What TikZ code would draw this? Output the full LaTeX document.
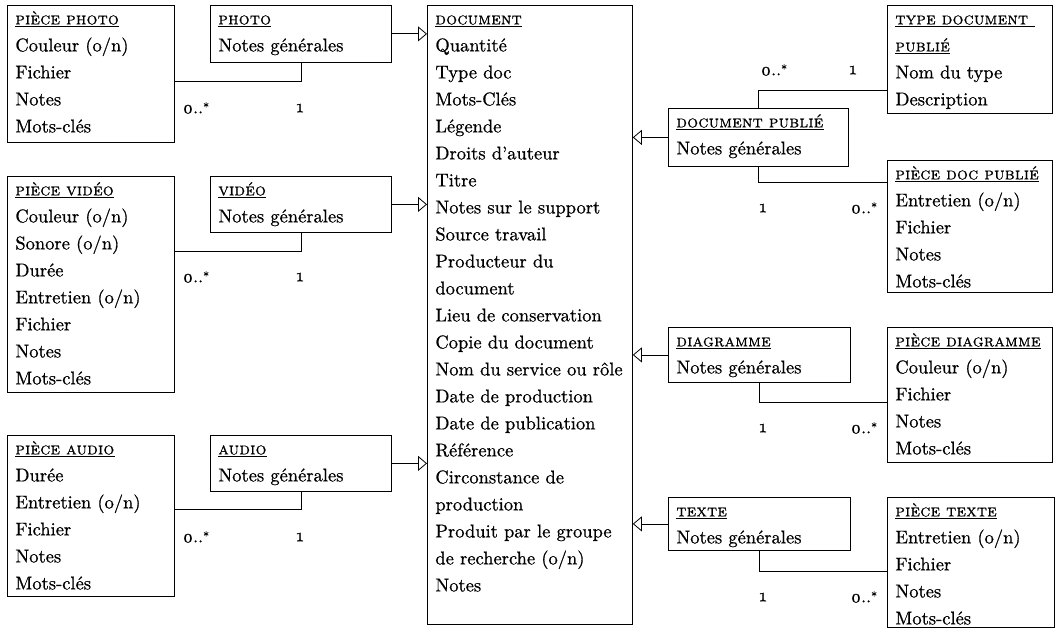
\documentclass[tikz,border=0pt]{standalone}
\usepackage{fontspec}
\setmainfont{lmroman10-regular.otf}[FakeBold=0.7, SmallCapsFont=lmromancaps10-regular.otf, SmallCapsFeatures={FakeBold=0.8, LetterSpace=1.5}]
\usepackage{tikz}
\usetikzlibrary{arrows.meta}
\newcommand{\entfont}{\fontsize{18.5}{27}\selectfont}
\newcommand{\cardfont}{\fontsize{18}{20}\selectfont}
\newcommand{\ent}[1]{{\fontsize{17}{27}\selectfont\underline{\textsc{#1}}}}
\newcommand{\many}{\oldstylenums{0}..\raisebox{2pt}{\fontsize{12}{12}\selectfont*}}
\newcommand{\one}{\oldstylenums{1}}
\tikzset{
	entity/.style={draw, anchor=north west, align=left, inner xsep=8pt, inner ysep=0pt, text height=19pt, font=\entfont},
	card/.style={font=\cardfont, inner sep=0pt},
}
\begin{document}
\begin{tikzpicture}[x=1pt,y=-1pt,line width=0.8pt,>={Triangle[open,length=9pt,width=15pt]}]
	\useasboundingbox (0,0) rectangle (1059,628);
	\node[entity, text width=189pt, text depth=600pt] (document) at (427,5) {\ent{document}\\ Quantité\\ Type doc\\ Mots-Clés\\ Légende\\ Droits d'auteur\\ Titre\\ Notes sur le support\\ Source travail\\ Producteur du\\ document\\ Lieu de conservation\\ Copie du document\\ Nom du service ou rôle\\ Date de production\\ Date de publication\\ Référence\\ Circonstance de\\ production\\ Produit par le groupe\\ de recherche (o/n)\\ Notes};
	\node[entity, text width=151pt, text depth=118pt] (piecephoto) at (7,5) {\ent{pièce photo}\\ Couleur (o/n)\\ Fichier\\ Notes\\ Mots-clés};
	\node[entity, text width=165pt, text depth=38pt] (photo) at (210,5) {\ent{photo}\\ Notes générales};
	\node[entity, text width=151pt, text depth=197pt] (piecevideo) at (7,176) {\ent{pièce vidéo}\\ Couleur (o/n)\\ Sonore (o/n)\\ Durée\\ Entretien (o/n)\\ Fichier\\ Notes\\ Mots-clés};
	\node[entity, text width=165pt, text depth=37pt] (video) at (210,176) {\ent{vidéo}\\ Notes générales};
	\node[entity, text width=151pt, text depth=142pt] (pieceaudio) at (7,435) {\ent{pièce audio}\\ Durée\\ Entretien (o/n)\\ Fichier\\ Notes\\ Mots-clés};
	\node[entity, text width=165pt, text depth=37pt] (audio) at (210,435) {\ent{audio}\\ Notes générales};
	\node[entity, text width=149pt, text depth=89pt] (typedoc) at (887,5) {\ent{type document\ }\\ \ent{publié}\\ Nom du type\\ Description};
	\node[entity, text width=164pt, text depth=39pt] (docpublie) at (668,108) {\ent{document publié}\\ Notes générales};
	\node[entity, text width=149pt, text depth=113pt] (piecedocpublie) at (887,160) {\ent{pièce doc publié}\\ Entretien (o/n)\\ Fichier\\ Notes\\ Mots-clés};
	\node[entity, text width=166pt, text depth=36pt] (diagramme) at (668,327) {\ent{diagramme}\\ Notes générales};
	\node[entity, text width=149pt, text depth=116pt] (piecediagramme) at (887,327) {\ent{pièce diagramme}\\ Couleur (o/n)\\ Fichier\\ Notes\\ Mots-clés};
	\node[entity, text width=166pt, text depth=34pt] (texte) at (668,497) {\ent{texte}\\ Notes générales};
	\node[entity, text width=151pt, text depth=111pt] (piecetexte) at (887,497) {\ent{pièce texte}\\ Entretien (o/n)\\ Fichier\\ Notes\\ Mots-clés};
	\draw [->] (photo) -- (photo -| document.west);
	\draw [->] (video) -- (video -| document.west);
	\draw [->] (audio) -- (audio -| document.west);
	\draw [->] (docpublie) -- (docpublie -| document.east);
	\draw [->] (diagramme) -- (diagramme -| document.east);
	\draw [->] (texte) -- (texte -| document.east);
	\draw (photo.south) |- ([yshift=-7.5pt]piecephoto.east);
	\draw (video.south) |- ([yshift=33pt]piecevideo.east);
	\draw (audio.south) |- ([yshift=6.5pt]pieceaudio.east);
	\draw (docpublie.north) |- ([yshift=-31pt]typedoc.west);
	\draw (docpublie.south) |- ([yshift=44pt]piecedocpublie.west);
	\draw (diagramme.south) |- ([yshift=-7.5pt]piecediagramme.west);
	\draw (texte.south) |- ([yshift=-9pt]piecetexte.west);
	\node[card] (photomany) at (196,108) {\many};
	\node[card] (photoone) at (300,108) {\one};
	\node[card] (videomany) at (196,277) {\many};
	\node[card] (videoone) at (300,277) {\one};
	\node[card] (audiomany) at (196,537) {\many};
	\node[card] (audioone) at (300,537) {\one};
	\node[card] (typemany) at (774,70) {\many};
	\node[card] (typeone) at (853,70) {\one};
	\node[card] (pubone) at (763,208) {\one};
	\node[card] (pubmany) at (864,208) {\many};
	\node[card] (diagone) at (763,428) {\one};
	\node[card] (diagmany) at (864,428) {\many};
	\node[card] (texteone) at (763,597) {\one};
	\node[card] (textemany) at (864,597) {\many};
\end{tikzpicture}
\end{document}
